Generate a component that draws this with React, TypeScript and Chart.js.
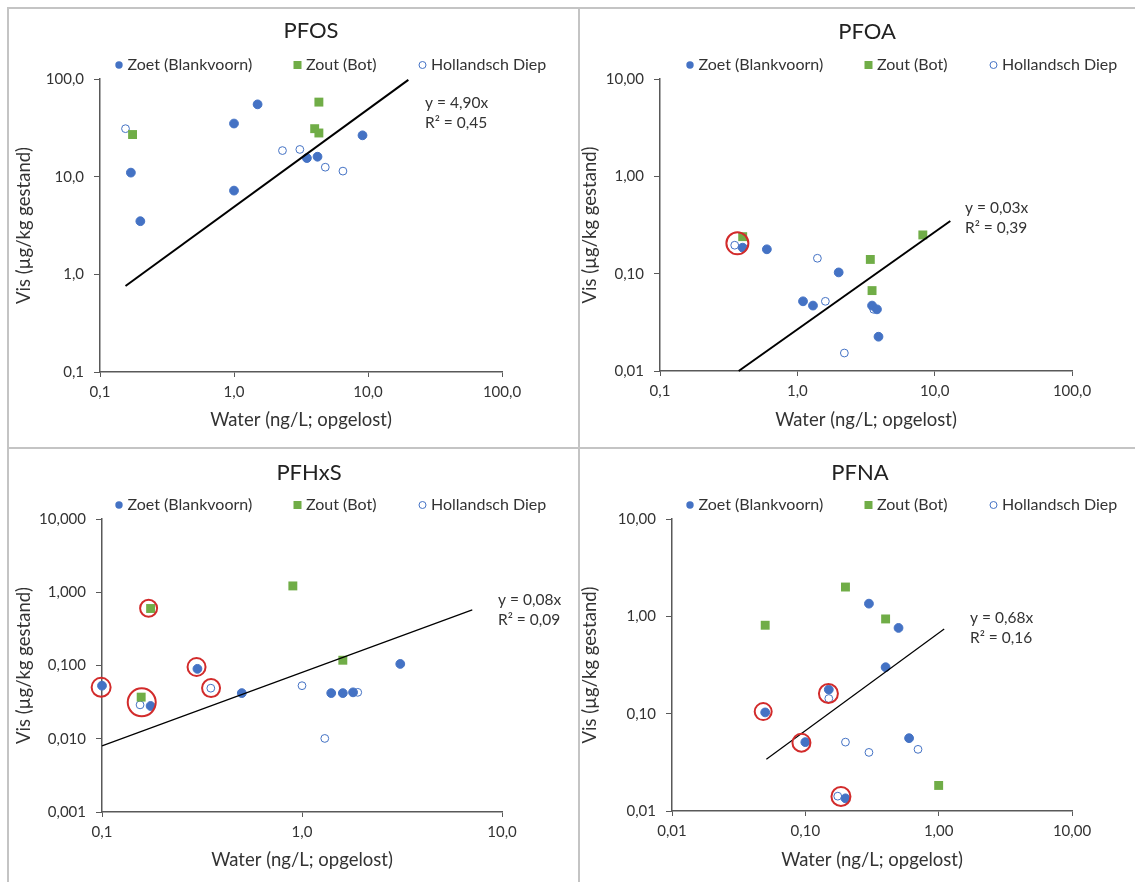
import React, { useEffect, useRef } from 'react';
import { Chart, registerables } from 'chart.js';

Chart.register(...registerables);

const FONT = 'Lato, "Open Sans", sans-serif';
const BLUE = '#4472C4';
const GREEN = '#70AD47';
const RING = '#D22B2B';
const AXIS = '#595959';
const TEXT = '#333333';

const legendLabels = ['Zoet (Blankvoorn)', 'Zout (Bot)', 'Hollandsch Diep'];
const yAxisTitle = 'Vis (µg/kg gestand)';
const xAxisTitle = 'Water (ng/L; opgelost)';

// ---------- PFOS ----------
const pfosZoetX = [1.5, 1.0, 0.17, 1.0, 0.2, 3.5, 4.2, 9.1];
const pfosZoetY = [55, 35, 11, 7.2, 3.5, 15.5, 16, 26.5];
const pfosZoutX = [0.175, 4.3, 4.0, 4.3];
const pfosZoutY = [27, 58, 31, 28];
const pfosHdX = [0.155, 2.3, 3.1, 4.8, 6.5];
const pfosHdY = [31, 18.5, 19, 12.5, 11.4];
const pfosTrendX = [0.155, 20];
const pfosTrendY = [0.76, 98];
const pfosRingX: number[] = [];
const pfosRingY: number[] = [];
const pfosEquation = ['y = 4,90x', 'R² = 0,45'];
const pfosXTicks = [0.1, 1, 10, 100];
const pfosXLabels = ['0,1', '1,0', '10,0', '100,0'];
const pfosYTicks = [0.1, 1, 10, 100];
const pfosYLabels = ['0,1', '1,0', '10,0', '100,0'];

// ---------- PFOA ----------
const pfoaZoetX = [0.4, 0.6, 2.0, 1.1, 1.3, 3.5, 3.8, 3.9];
const pfoaZoetY = [0.185, 0.178, 0.103, 0.052, 0.047, 0.047, 0.043, 0.0225];
const pfoaZoutX = [0.4, 8.2, 3.4, 3.5];
const pfoaZoutY = [0.24, 0.25, 0.14, 0.067];
const pfoaHdX = [0.35, 1.4, 1.6, 3.6, 2.2];
const pfoaHdY = [0.196, 0.144, 0.052, 0.043, 0.0153];
const pfoaTrendX = [0.374, 13];
const pfoaTrendY = [0.01, 0.348];
const pfoaRingX = [0.366];
const pfoaRingY = [0.205];
const pfoaEquation = ['y = 0,03x', 'R² = 0,39'];
const pfoaXTicks = [0.1, 1, 10, 100];
const pfoaXLabels = ['0,1', '1,0', '10,0', '100,0'];
const pfoaYTicks = [0.01, 0.1, 1, 10];
const pfoaYLabels = ['0,01', '0,10', '1,00', '10,00'];

// ---------- PFHxS ----------
const pfhxsZoetX = [0.1, 0.175, 0.3, 0.5, 1.4, 1.6, 1.8, 3.1];
const pfhxsZoetY = [0.053, 0.028, 0.09, 0.042, 0.042, 0.042, 0.043, 0.105];
const pfhxsZoutX = [0.9, 0.175, 1.6, 0.157];
const pfhxsZoutY = [1.22, 0.6, 0.118, 0.037];
const pfhxsHdX = [0.155, 0.35, 1.0, 1.9, 1.3];
const pfhxsHdY = [0.029, 0.049, 0.053, 0.043, 0.0101];
const pfhxsTrendX = [0.1, 7.1];
const pfhxsTrendY = [0.008, 0.574];
const pfhxsRingX = [0.099, 0.158, 0.171, 0.297, 0.351];
const pfhxsRingY = [0.0503, 0.0314, 0.606, 0.0954, 0.0492];
const pfhxsEquation = ['y = 0,08x', 'R² = 0,09'];
const pfhxsXTicks = [0.1, 1, 10];
const pfhxsXLabels = ['0,1', '1,0', '10,0'];
const pfhxsYTicks = [0.001, 0.01, 0.1, 1, 10];
const pfhxsYLabels = ['0,001', '0,010', '0,100', '1,000', '10,000'];

// ---------- PFNA ----------
const pfnaZoetX = [0.3, 0.5, 0.4, 0.15, 0.05, 0.1, 0.6, 0.2];
const pfnaZoetY = [1.35, 0.76, 0.3, 0.177, 0.103, 0.051, 0.056, 0.0135];
const pfnaZoutX = [0.2, 0.05, 0.4, 1.0];
const pfnaZoutY = [2.0, 0.81, 0.94, 0.0183];
const pfnaHdX = [0.15, 0.2, 0.3, 0.7, 0.175];
const pfnaHdY = [0.143, 0.051, 0.04, 0.043, 0.0142];
const pfnaTrendX = [0.051, 1.1];
const pfnaTrendY = [0.034, 0.74];
const pfnaRingX = [0.0483, 0.0935, 0.149, 0.185];
const pfnaRingY = [0.105, 0.0503, 0.161, 0.0141];
const pfnaEquation = ['y = 0,68x', 'R² = 0,16'];
const pfnaXTicks = [0.01, 0.1, 1, 10];
const pfnaXLabels = ['0,01', '0,10', '1,00', '10,00'];
const pfnaYTicks = [0.01, 0.1, 1, 10];
const pfnaYLabels = ['0,01', '0,10', '1,00', '10,00'];

const pts = (xs: number[], ys: number[]) => xs.map((x, i) => ({ x, y: ys[i] }));

type PanelCfg = {
  title: string;
  left: number; top: number; width: number; height: number;
  area: { l: number; r: number; t: number; b: number };
  titleX: number; titleY: number;
  yTitlePad: number; xTitlePad: number;
  xr: { min: number; max: number; ticks: number[]; labels: string[] };
  yr: { min: number; max: number; ticks: number[]; labels: string[] };
  zoet: { x: number; y: number }[];
  zout: { x: number; y: number }[];
  hd: { x: number; y: number }[];
  trend: { x: number; y: number }[];
  trendWidth: number;
  rings: { x: number; y: number }[];
  ringR: number[];
  eq: string[];
  eqX: number; eqY: number;
};

const panels: PanelCfg[] = [
  {
    title: 'PFOS', left: 8, top: 8, width: 571, height: 440,
    area: { l: 92, r: 494, t: 71, b: 364 },
    titleX: 303, titleY: 23, yTitlePad: 5, xTitlePad: 17,
    xr: { min: 0.1, max: 100, ticks: pfosXTicks, labels: pfosXLabels },
    yr: { min: 0.1, max: 100, ticks: pfosYTicks, labels: pfosYLabels },
    zoet: pts(pfosZoetX, pfosZoetY), zout: pts(pfosZoutX, pfosZoutY), hd: pts(pfosHdX, pfosHdY),
    trend: pts(pfosTrendX, pfosTrendY), trendWidth: 2,
    rings: pts(pfosRingX, pfosRingY), ringR: [],
    eq: pfosEquation, eqX: 417, eqY: 95,
  },
  {
    title: 'PFOA', left: 579, top: 8, width: 556, height: 440,
    area: { l: 81, r: 493, t: 71, b: 363 },
    titleX: 288, titleY: 24, yTitlePad: 0, xTitlePad: 17,
    xr: { min: 0.1, max: 100, ticks: pfoaXTicks, labels: pfoaXLabels },
    yr: { min: 0.01, max: 10, ticks: pfoaYTicks, labels: pfoaYLabels },
    zoet: pts(pfoaZoetX, pfoaZoetY), zout: pts(pfoaZoutX, pfoaZoutY), hd: pts(pfoaHdX, pfoaHdY),
    trend: pts(pfoaTrendX, pfoaTrendY), trendWidth: 2,
    rings: pts(pfoaRingX, pfoaRingY), ringR: [11],
    eq: pfoaEquation, eqX: 386, eqY: 200,
  },
  {
    title: 'PFHxS', left: 8, top: 448, width: 571, height: 434,
    area: { l: 94, r: 494, t: 71, b: 364 },
    titleX: 301, titleY: 25, yTitlePad: 5, xTitlePad: 11,
    xr: { min: 0.1, max: 10, ticks: pfhxsXTicks, labels: pfhxsXLabels },
    yr: { min: 0.001, max: 10, ticks: pfhxsYTicks, labels: pfhxsYLabels },
    zoet: pts(pfhxsZoetX, pfhxsZoetY), zout: pts(pfhxsZoutX, pfhxsZoutY), hd: pts(pfhxsHdX, pfhxsHdY),
    trend: pts(pfhxsTrendX, pfhxsTrendY), trendWidth: 1.2,
    rings: pts(pfhxsRingX, pfhxsRingY), ringR: [9.5, 14, 8.5, 9, 9],
    eq: pfhxsEquation, eqX: 490, eqY: 152,
  },
  {
    title: 'PFNA', left: 579, top: 448, width: 556, height: 434,
    area: { l: 93, r: 493, t: 71, b: 363 },
    titleX: 281, titleY: 25, yTitlePad: 0, xTitlePad: 11,
    xr: { min: 0.01, max: 10, ticks: pfnaXTicks, labels: pfnaXLabels },
    yr: { min: 0.01, max: 10, ticks: pfnaYTicks, labels: pfnaYLabels },
    zoet: pts(pfnaZoetX, pfnaZoetY), zout: pts(pfnaZoutX, pfnaZoutY), hd: pts(pfnaHdX, pfnaHdY),
    trend: pts(pfnaTrendX, pfnaTrendY), trendWidth: 1.2,
    rings: pts(pfnaRingX, pfnaRingY), ringR: [8.5, 9, 9.5, 9.5],
    eq: pfnaEquation, eqX: 391, eqY: 170,
  },
];

function makeDecor(p: PanelCfg) {
  return {
    id: 'decor',
    afterDraw(chart: any) {
      const ctx: CanvasRenderingContext2D = chart.ctx;
      ctx.save();
      // title
      ctx.fillStyle = '#222222';
      ctx.font = `22px ${FONT}`;
      ctx.textAlign = 'center';
      ctx.textBaseline = 'middle';
      ctx.fillText(p.title, p.titleX, p.titleY);
      // legend
      const ly = 57;
      const mx = [111, 289.5, 414.5];
      ctx.font = `16px ${FONT}`;
      ctx.textAlign = 'left';
      ctx.fillStyle = TEXT;
      legendLabels.forEach((lab, i) => ctx.fillText(lab, mx[i] + 8.5, ly));
      ctx.fillStyle = BLUE;
      ctx.beginPath();
      ctx.arc(mx[0], ly, 3.7, 0, Math.PI * 2);
      ctx.fill();
      ctx.fillStyle = GREEN;
      ctx.fillRect(mx[1] - 4, ly - 4, 8, 8);
      ctx.strokeStyle = BLUE;
      ctx.lineWidth = 1;
      ctx.beginPath();
      ctx.arc(mx[2], ly, 3.5, 0, Math.PI * 2);
      ctx.stroke();
      // equation
      ctx.fillStyle = TEXT;
      ctx.font = `15.5px ${FONT}`;
      ctx.fillText(p.eq[0], p.eqX, p.eqY);
      ctx.fillText(p.eq[1], p.eqX, p.eqY + 20);
      ctx.restore();
    },
  };
}

function Panel({ p }: { p: PanelCfg }) {
  const ref = useRef<HTMLCanvasElement | null>(null);
  useEffect(() => {
    if (!ref.current) return;
    const tickFont = { family: FONT, size: 15 };
    const titleFont = { family: FONT, size: 18.5 };
    const chart = new Chart(ref.current, {
      type: 'scatter',
      data: {
        datasets: [
          {
            label: 'rings', data: p.rings, order: 0, clip: false,
            pointStyle: 'circle', pointRadius: p.ringR, pointBackgroundColor: 'rgba(0,0,0,0)',
            pointBorderColor: RING, pointBorderWidth: 2,
          },
          {
            label: 'trend', data: p.trend, order: 1, clip: false, showLine: true,
            pointRadius: 0, borderColor: '#000000', borderWidth: p.trendWidth,
          },
          {
            label: legendLabels[0], data: p.zoet, order: 2, clip: false,
            pointStyle: 'circle', pointRadius: 4.4, pointBackgroundColor: BLUE,
            pointBorderColor: BLUE, pointBorderWidth: 1,
          },
          {
            label: legendLabels[1], data: p.zout, order: 3, clip: false,
            pointStyle: 'rect', pointRadius: 6.3, pointBackgroundColor: GREEN,
            pointBorderColor: GREEN, pointBorderWidth: 0,
          },
          {
            label: legendLabels[2], data: p.hd, order: 4, clip: false,
            pointStyle: 'circle', pointRadius: 3.9, pointBackgroundColor: '#ffffff',
            pointBorderColor: BLUE, pointBorderWidth: 1,
          },
        ],
      } as any,
      options: {
        animation: false,
        responsive: false,
        events: [],
        layout: { padding: { left: 0, top: p.area.t, right: p.width - p.area.r, bottom: 0 } },
        plugins: { legend: { display: false }, title: { display: false }, tooltip: { enabled: false } },
        scales: {
          x: {
            type: 'logarithmic', min: p.xr.min, max: p.xr.max,
            afterBuildTicks: (s: any) => { s.ticks = p.xr.ticks.map((v) => ({ value: v })); },
            afterFit: (s: any) => { s.height = p.height - p.area.b; },
            ticks: {
              autoSkip: false, maxRotation: 0, minRotation: 0, padding: 6, color: TEXT, font: tickFont,
              callback: (_v: any, i: number) => p.xr.labels[i],
            },
            grid: { display: true, drawOnChartArea: false, drawTicks: true, tickLength: 5, color: AXIS, lineWidth: 1 },
            border: { display: true, color: AXIS, width: 1.5 },
            title: { display: true, text: xAxisTitle, color: TEXT, font: titleFont, padding: { top: 0, bottom: p.xTitlePad } },
          },
          y: {
            type: 'logarithmic', min: p.yr.min, max: p.yr.max,
            afterBuildTicks: (s: any) => { s.ticks = p.yr.ticks.map((v) => ({ value: v })); },
            afterFit: (s: any) => { s.width = p.area.l; },
            ticks: {
              autoSkip: false, padding: 10, color: TEXT, font: tickFont,
              callback: (_v: any, i: number) => p.yr.labels[i],
            },
            grid: { display: true, drawOnChartArea: false, drawTicks: true, tickLength: 6, color: AXIS, lineWidth: 1 },
            border: { display: true, color: AXIS, width: 1.5 },
            title: { display: true, text: yAxisTitle, color: TEXT, font: titleFont, padding: { top: p.yTitlePad, bottom: 0 } },
          },
        },
      } as any,
      plugins: [makeDecor(p)],
    });
    return () => chart.destroy();
  }, [p]);
  return (
    <canvas
      ref={ref}
      width={p.width}
      height={p.height}
      style={{ position: 'absolute', left: p.left, top: p.top, width: p.width, height: p.height }}
    />
  );
}

export default function App() {
  const line = '#c4c4c4';
  return (
    <div style={{ position: 'fixed', left: 0, top: 0, width: 1135, height: 882, overflow: 'hidden', background: '#ffffff' }}>
      {panels.map((p) => (
        <Panel key={p.title} p={p} />
      ))}
      <div style={{ position: 'absolute', left: 7, top: 7, width: 1128, height: 2, background: line }} />
      <div style={{ position: 'absolute', left: 7, top: 7, width: 2, height: 875, background: line }} />
      <div style={{ position: 'absolute', left: 7, top: 447, width: 1128, height: 2, background: line }} />
      <div style={{ position: 'absolute', left: 578, top: 7, width: 2, height: 875, background: line }} />
    </div>
  );
}
